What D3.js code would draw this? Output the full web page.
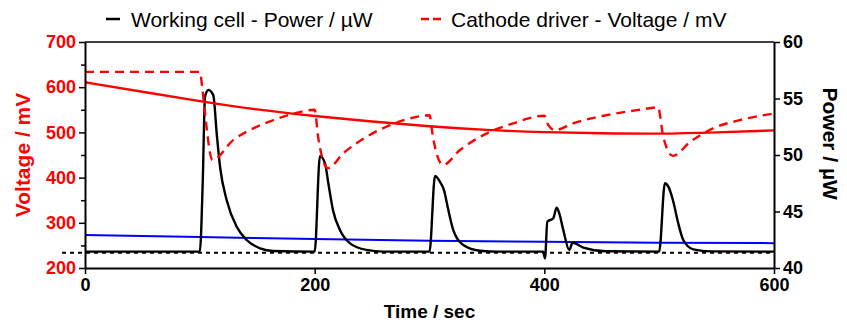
<!DOCTYPE html>
<html>
<head>
<meta charset="utf-8">
<script src="https://cdn.jsdelivr.net/npm/d3@7"></script>
<style>
  body { margin: 0; background: #fff; }
  svg text { font-family: "Liberation Sans", Arial, sans-serif; }
</style>
</head>
<body>
<div class="chart"></div>
<script>
// time axis, voltage axis (left), power axis (right)
const timeTicks = [0, 200, 400, 600];
const voltTicks = [200, 300, 400, 500, 600, 700];
const voltMinor = [250, 350, 450, 550, 650];
const powerTicks = [40, 45, 50, 55, 60];

// working cell voltage (red solid), [time, mV]
const cellVoltage = [
    [0, 611], [50, 590], [100, 569], [150, 550], [200, 536], [250, 524],
    [300, 513], [350, 505], [400, 500], [450, 498], [500, 496.5], [550, 500], [600, 504.5]
];

// cathode driver voltage (red dashed), [time, mV]
const driverVoltage = [
    [0, 634], [100, 634], [102.5, 590], [104.5, 542], [111, 439],
    [129, 483], [146.6, 509], [164, 527], [181, 541], [200, 550],
    [203, 490], [211.5, 421],
    [225, 454], [245, 490], [265.6, 516], [283, 531], [300, 538],
    [303, 490], [311.7, 428],
    [326.5, 461], [350, 498], [373, 520], [400, 537],
    [403.5, 516], [409, 505],
    [425, 520], [454, 538], [483, 550], [499, 555.5],
    [503.6, 490], [512, 448],
    [527, 479], [547, 509], [570, 527], [600, 542]
];

// working cell power (black), [time, uW]
const cellPower = [
    [0, 41.45], [100, 41.45], [102.5, 47.5], [104.5, 55.16], [107.4, 55.75], [111.7, 55.3],
    [114.7, 51.9], [117.6, 48.96], [123.4, 46.0], [132.1, 43.65], [140.8, 42.48],
    [152.4, 41.74], [164, 41.5], [200, 41.45],
    [204.6, 49.9], [209, 49.26], [211.9, 47.5], [216, 45.1], [222, 43.36],
    [230.8, 42.18], [245, 41.6], [260, 41.45], [300, 41.45],
    [304.8, 48.14], [309, 47.64], [312.6, 46.9], [316.4, 45.13], [320.7, 43.36],
    [329.4, 42.04], [344, 41.53], [360, 41.45], [399, 41.45],
    [400.6, 40.86], [402.6, 44.1], [407.8, 44.4], [410.7, 45.34], [413, 44.84],
    [416.5, 43.36], [421.7, 41.6], [424.6, 42.24], [434, 41.8], [454, 41.48], [500, 41.45],
    [505, 47.5], [508, 47.2], [512, 46.0], [516.6, 43.96], [521, 42.48],
    [529.7, 41.65], [545, 41.47], [600, 41.45]
];

// blue reference (mV)
const baseVoltage = [
    [0, 273], [100, 268.5], [200, 264], [300, 260.5], [400, 258], [500, 256], [600, 255]
];

// dotted black reference level (uW) and its time span
const refPower = 41.35;
const refSpan = [-20, 600];

const width = 847, height = 324;
const margin = { top: 42, right: 73, bottom: 56, left: 85 };

const svg = d3.select(".chart").append("svg")
    .attr("width", width)
    .attr("height", height);

const x = d3.scaleLinear().domain([0, 600]).range([margin.left, width - margin.right]);
const yV = d3.scaleLinear().domain([200, 700]).range([height - margin.bottom, margin.top]);
const yP = d3.scaleLinear().domain([40, 60]).range([height - margin.bottom, margin.top]);

const curve = d3.curveMonotoneX;

// blue line
svg.append("path")
    .datum(baseVoltage)
    .attr("fill", "none")
    .attr("stroke", "#0000ff")
    .attr("stroke-width", 2)
    .attr("d", d3.line().x(d => x(d[0])).y(d => yV(d[1])).curve(curve));

// dotted reference
svg.append("line")
    .attr("x1", x(refSpan[0])).attr("x2", x(refSpan[1]))
    .attr("y1", yP(refPower)).attr("y2", yP(refPower))
    .attr("stroke", "#000")
    .attr("stroke-width", 2)
    .attr("stroke-dasharray", "4,4");

// power
svg.append("path")
    .datum(cellPower)
    .attr("fill", "none")
    .attr("stroke", "#000")
    .attr("stroke-width", 2.4)
    .attr("stroke-linejoin", "round")
    .attr("d", d3.line().x(d => x(d[0])).y(d => yP(d[1])).curve(curve));

// cathode driver
svg.append("path")
    .datum(driverVoltage)
    .attr("fill", "none")
    .attr("stroke", "#ff0000")
    .attr("stroke-width", 2.4)
    .attr("stroke-dasharray", "9,6")
    .attr("d", d3.line().x(d => x(d[0])).y(d => yV(d[1])).curve(curve));

// cell voltage
svg.append("path")
    .datum(cellVoltage)
    .attr("fill", "none")
    .attr("stroke", "#ff0000")
    .attr("stroke-width", 2.4)
    .attr("d", d3.line().x(d => x(d[0])).y(d => yV(d[1])).curve(d3.curveBasis));

// frame top
svg.append("line")
    .attr("x1", margin.left).attr("x2", width - margin.right)
    .attr("y1", margin.top).attr("y2", margin.top)
    .attr("stroke", "#000").attr("stroke-width", 1.5);

// x-axis
const xAxis = svg.append("g")
    .attr("transform", `translate(0,${height - margin.bottom})`)
    .call(d3.axisBottom(x).tickValues(timeTicks).tickSize(6).tickPadding(4).tickSizeOuter(0));
xAxis.selectAll("text").attr("fill", "#000");

// left minor ticks
svg.append("g")
    .attr("transform", `translate(${margin.left},0)`)
    .call(d3.axisLeft(yV).tickValues(voltMinor).tickSize(4).tickFormat("").tickSizeOuter(0))
    .select(".domain").remove();

const yAxisL = svg.append("g")
    .attr("transform", `translate(${margin.left},0)`)
    .call(d3.axisLeft(yV).tickValues(voltTicks).tickSize(6).tickPadding(3).tickSizeOuter(0));
yAxisL.selectAll("text").attr("fill", "#ff0000");

const yAxisR = svg.append("g")
    .attr("transform", `translate(${width - margin.right},0)`)
    .call(d3.axisRight(yP).tickValues(powerTicks).tickSize(6).tickPadding(3).tickSizeOuter(0));
yAxisR.selectAll("text").attr("fill", "#000");

svg.selectAll(".domain").attr("stroke", "#000").attr("stroke-width", 2);
svg.selectAll(".tick line").attr("stroke", "#000").attr("stroke-width", 1.5);
svg.selectAll(".tick text")
    .style("font-size", "18px")
    .style("font-weight", "bold");

// axis titles
svg.append("text")
    .attr("x", x(300)).attr("y", 318)
    .attr("text-anchor", "middle")
    .style("font-size", "19px").style("font-weight", "bold")
    .text("Time / sec");

svg.append("text")
    .attr("transform", `translate(30,${yV(450)}) rotate(-90)`)
    .attr("text-anchor", "middle")
    .attr("fill", "#ff0000")
    .style("font-size", "21px").style("font-weight", "bold")
    .text("Voltage / mV");

svg.append("text")
    .attr("transform", `translate(823,${yP(51)}) rotate(90)`)
    .attr("text-anchor", "middle")
    .style("font-size", "21px").style("font-weight", "bold")
    .text("Power / µW");

// legend
const legend = svg.append("g");
legend.append("line")
    .attr("x1", 106).attr("x2", 120).attr("y1", 19).attr("y2", 19)
    .attr("stroke", "#000").attr("stroke-width", 2.5);
legend.append("text")
    .attr("x", 131).attr("y", 27)
    .style("font-size", "21px")
    .text("Working cell - Power / µW");
legend.append("line")
    .attr("x1", 421).attr("x2", 441).attr("y1", 19).attr("y2", 19)
    .attr("stroke", "#ff0000").attr("stroke-width", 2.5)
    .attr("stroke-dasharray", "8,4");
legend.append("text")
    .attr("x", 451).attr("y", 27)
    .style("font-size", "21px")
    .text("Cathode driver - Voltage / mV");
</script>
</body>
</html>
